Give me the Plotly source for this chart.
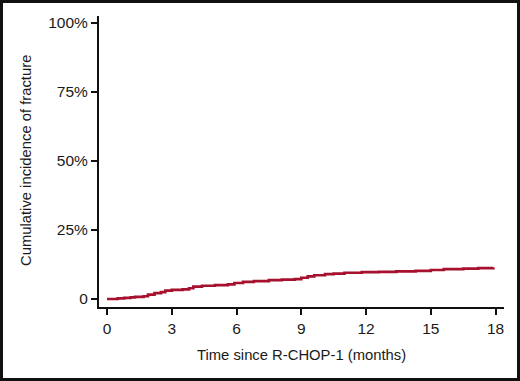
import plotly.graph_objects as go

# Data
time_months = [0, 0.5, 0.8, 1.1, 1.3, 1.7, 1.9, 2.2, 2.5, 2.7, 3.0, 3.5, 3.8, 4.0, 4.4, 5.0,
               5.6, 5.9, 6.3, 6.8, 7.5, 8.1, 8.7, 9.0, 9.3, 9.6, 10.1, 10.5, 11.0, 11.8,
               12.6, 13.4, 14.3, 15.0, 15.6, 16.5, 17.2, 17.9]
cum_incidence = [0, 0.2, 0.4, 0.6, 0.8, 1.0, 1.6, 2.1, 2.5, 3.0, 3.3, 3.5, 3.9, 4.5, 4.8, 5.0,
                 5.3, 5.8, 6.2, 6.5, 6.8, 7.0, 7.2, 7.7, 8.2, 8.6, 9.0, 9.2, 9.5, 9.7,
                 9.8, 10.0, 10.2, 10.5, 10.8, 11.0, 11.2, 11.4]
x_ticks = [0, 3, 6, 9, 12, 15, 18]
y_ticks = [0, 25, 50, 75, 100]
y_tick_labels = ["0", "25%", "50%", "75%", "100%"]

W, H = 520, 381
L, R, T, B = 99, 16, 16, 74
pw, ph = W - L - R, H - T - B

fig = go.Figure()
fig.add_trace(go.Scatter(
    x=time_months, y=cum_incidence, mode="lines",
    line=dict(color="#A6112E", width=2.7, shape="hv"),
    showlegend=False, hoverinfo="skip"))

tickfont = dict(family="Liberation Sans, Arial, sans-serif", size=15.5, color="#1a1a1a")
titlefont = dict(family="Liberation Sans Narrow, Arial Narrow, Liberation Sans, sans-serif",
                 size=14.8, color="#1a1a1a")

fig.update_layout(
    width=W, height=H,
    margin=dict(l=L, r=R, t=T, b=B, pad=0),
    paper_bgcolor="white", plot_bgcolor="white",
    xaxis=dict(range=[-0.37, 18.39], tickvals=x_ticks, ticktext=[str(v) for v in x_ticks],
               showgrid=False, zeroline=False, showline=True, linecolor="#111", linewidth=2,
               ticks="outside", ticklen=6, tickwidth=2, tickcolor="#111", tickfont=tickfont),
    yaxis=dict(range=[-2.9, 102.5], tickvals=y_ticks, ticktext=y_tick_labels,
               showgrid=False, zeroline=False, showline=True, linecolor="#111", linewidth=2,
               ticks="outside", ticklen=6, tickwidth=2, tickcolor="#111", tickfont=tickfont),
    annotations=[
        dict(text="Time since R-CHOP-1 (months)", xref="paper", yref="paper",
             x=(301 - L) / pw, y=(H - 355 - B) / ph, xanchor="center", yanchor="middle",
             showarrow=False, font=titlefont),
        dict(text="Cumulative incidence of fracture", xref="paper", yref="paper",
             x=(26 - L) / pw, y=(H - 161 - B) / ph, xanchor="center", yanchor="middle",
             textangle=-90, showarrow=False, font=titlefont),
    ],
    shapes=[dict(type="rect", xref="paper", yref="paper",
                 x0=(1.5 - L) / pw, x1=(W - 1.5 - L) / pw,
                 y0=(1.5 - B) / ph, y1=(H - 1.5 - B) / ph,
                 line=dict(color="#111", width=3), fillcolor="rgba(0,0,0,0)", layer="above")],
)

fig.write_html("out.html", config={"displayModeBar": False},
               post_script="document.body.style.margin='0';document.body.style.padding='0';")
